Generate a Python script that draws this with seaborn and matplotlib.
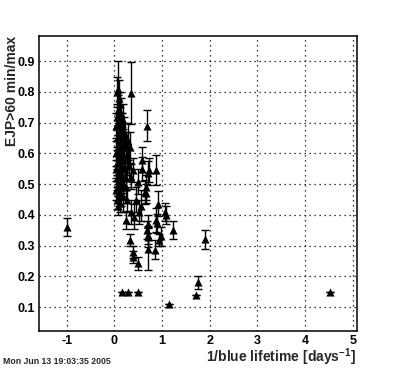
import matplotlib
matplotlib.use("Agg")
import matplotlib.pyplot as plt
from matplotlib.ticker import MultipleLocator
import seaborn as sns
import pandas as pd

# ---- data ----
x_vals = [
    0.07, 0.05, 0.10, 0.12, 0.08, 0.14, 0.06, 0.11, 0.17, 0.04,
    0.13, 0.20, 0.09, 0.05, 0.15, 0.18, 0.07, 0.12, 0.25, 0.04,
    0.10, 0.16, 0.21, 0.06, 0.13, 0.03, 0.09, 0.17, 0.05, 0.12,
    0.08, 0.14, 0.04, 0.10, 0.06, 0.12, 0.08, 0.18, 0.22, 0.28,
    0.30, 0.36, 0.69, 0.87, 0.70, 0.59, 0.73, 0.39, 0.49, 0.66,
    0.25, 0.64, 0.91, 0.66, 0.52, 0.35, 0.25, 0.42, 1.06, 1.08,
    0.87, 0.90, 0.70, 1.24, 0.69, 0.70, 0.70, 0.98, 0.94, 0.33,
    0.40, 0.39, 0.49, 0.70, 0.86, 0.59, 0.21, 0.35, 0.45, 0.55,
    0.19, 0.23, 0.15, 0.27, 0.11, 0.32, 0.24, 0.19, 0.14, 0.26,
    -1.00, 4.53, 1.90, 1.75, 1.72, 1.15, 0.16, 0.29, 0.50,
]
y_vals = [
    0.81, 0.80, 0.78, 0.76, 0.74, 0.73, 0.72, 0.70, 0.70, 0.69,
    0.68, 0.67, 0.66, 0.65, 0.65, 0.63, 0.62, 0.61, 0.62, 0.60,
    0.59, 0.58, 0.59, 0.57, 0.56, 0.55, 0.54, 0.53, 0.52, 0.51,
    0.50, 0.49, 0.48, 0.47, 0.45, 0.44, 0.43, 0.46, 0.55, 0.64,
    0.56, 0.796, 0.69, 0.546, 0.536, 0.55, 0.546, 0.546, 0.508, 0.49,
    0.49, 0.475, 0.437, 0.47, 0.41, 0.41, 0.383, 0.394, 0.41, 0.40,
    0.383, 0.372, 0.37, 0.35, 0.35, 0.334, 0.327, 0.33, 0.318, 0.318,
    0.28, 0.262, 0.242, 0.29, 0.287, 0.58, 0.59, 0.524, 0.45, 0.43,
    0.71, 0.66, 0.61, 0.58, 0.54, 0.62, 0.52, 0.50, 0.46, 0.45,
    0.36, 0.15, 0.32, 0.18, 0.14, 0.11, 0.15, 0.15, 0.15,
]
y_errs = [
    0.09, 0.05, 0.06, 0.04, 0.05, 0.05, 0.04, 0.03, 0.03, 0.04,
    0.05, 0.05, 0.04, 0.03, 0.04, 0.05, 0.04, 0.03, 0.05, 0.04,
    0.03, 0.04, 0.05, 0.04, 0.03, 0.03, 0.04, 0.03, 0.03, 0.04,
    0.03, 0.03, 0.03, 0.04, 0.03, 0.03, 0.03, 0.05, 0.04, 0.06,
    0.05, 0.10, 0.05, 0.05, 0.04, 0.04, 0.04, 0.04, 0.04, 0.04,
    0.04, 0.04, 0.04, 0.03, 0.04, 0.04, 0.03, 0.04, 0.03, 0.03,
    0.04, 0.03, 0.03, 0.03, 0.03, 0.03, 0.03, 0.03, 0.02, 0.02,
    0.02, 0.02, 0.02, 0.07, 0.03, 0.04, 0.04, 0.04, 0.04, 0.05,
    0.05, 0.04, 0.04, 0.05, 0.03, 0.05, 0.04, 0.03, 0.03, 0.04,
    0.03, 0.0, 0.03, 0.02, 0.0, 0.0, 0.0, 0.0, 0.0,
]
x_label = "1/blue lifetime [days$^{\\mathbf{-1}}$]"
y_label = "EJP>60 min/max"
date_text = "Mon Jun 13 19:03:35 2005"

df = pd.DataFrame({"x": x_vals, "y": y_vals, "err": y_errs})

sns.set_style("white")
plt.rcParams["font.family"] = ["Liberation Sans", "DejaVu Sans"]
plt.rcParams["mathtext.fontset"] = "custom"
plt.rcParams["mathtext.bf"] = "Liberation Sans:bold"
plt.rcParams["mathtext.rm"] = "Liberation Sans:bold"

fig = plt.figure(figsize=(3.96, 3.68), dpi=100)
ax = fig.add_axes([0.0985, 0.1005, 0.9007 - 0.0985, 0.902 - 0.1005])

ax.errorbar(df["x"], df["y"], yerr=df["err"], fmt="none", ecolor="black",
            elinewidth=1.0, capsize=3, capthick=1.0, zorder=2)
sns.scatterplot(data=df, x="x", y="y", marker="^", s=34, color="black",
                linewidth=0, ax=ax, zorder=3)

ax.set_xlim(-1.58, 5.084)
ax.set_ylim(0.022, 0.982)
ax.xaxis.set_major_locator(MultipleLocator(1))
ax.xaxis.set_minor_locator(MultipleLocator(0.2))
ax.yaxis.set_major_locator(MultipleLocator(0.1))
ax.yaxis.set_minor_locator(MultipleLocator(0.02))
ax.xaxis.set_major_formatter(plt.FuncFormatter(lambda v, p: f"{v:g}"))
ax.yaxis.set_major_formatter(plt.FuncFormatter(lambda v, p: f"{v:.1f}"))

ax.tick_params(which="both", direction="in", top=False, right=False,
               colors="black", width=1.0)
ax.tick_params(which="major", length=6, labelsize=9, pad=3)
ax.tick_params(which="minor", length=3.2)
for lab in ax.get_xticklabels() + ax.get_yticklabels():
    lab.set_fontweight("bold")

ax.grid(True, which="major", color="black", linestyle=(0, (1, 3)),
        linewidth=0.9)
for s in ax.spines.values():
    s.set_visible(True)
    s.set_color("black")
    s.set_linewidth(1.1)

ax.set_xlabel("")
ax.set_ylabel("")
fig.text(356 / 396, 1 - 362 / 368, x_label, fontsize=10, fontweight="bold",
         ha="right", va="baseline")
fig.text(12 / 396, 1 - 36 / 368, y_label, fontsize=10, fontweight="bold",
         ha="center", va="top", rotation=90)
fig.text(3 / 396, 1 - 364 / 368, date_text, fontsize=6.3, fontweight="bold",
         ha="left", va="baseline")

fig.savefig("out.png", dpi=100, facecolor="white")
